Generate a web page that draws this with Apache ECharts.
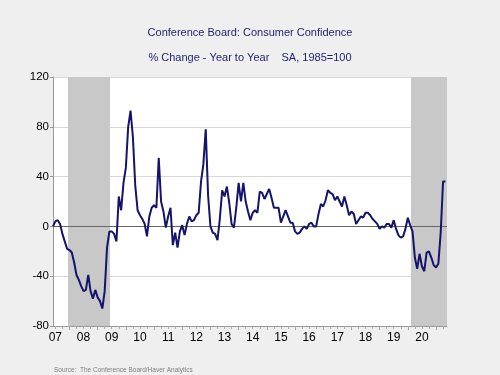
<!DOCTYPE html>
<html>
<head>
<meta charset="utf-8">
<style>
  html, body { margin: 0; padding: 0; background: #efefef; }
  #chart { width: 500px; height: 375px; }
</style>
<script src="https://cdn.jsdelivr.net/npm/echarts@6/dist/echarts.min.js"></script>
</head>
<body>
<div id="chart"></div>
<script>
// monthly % change y/y, Jun 2007 .. May 2021
const startYear = 2007;
const startMonth = 6;
const values = [
  0, 4, 5, 2, -6, -12, -18, -19, -21, -29, -39, -43,
  -48, -52, -51, -39, -52, -58, -51, -57, -60, -66, -52, -17,
  -4, -4, -6, -12, 24, 13, 35, 47, 80, 93, 72, 33,
  13, 9, 6, 2, -8, 8, 15, 17, 15, 55, 20, 12,
  -1, 8, 15, -15, -5, -17, -4, 1, -7, 2, 8, 4,
  5, 9, 11, 36, 50, 78, 25, 0, -5, -6, -11, 6,
  29, 24, 32, 19, 2, -1, 15, 35, 20, 35, 20, 12,
  5, 11, 13, 11, 28, 27, 22, 26, 30, 23, 15, 15,
  15, 3, 8, 13, 8, 3, 3, -4, -6, -5, -2, 0,
  -2, 2, 3, 0, 0, 10, 18, 16, 21, 29, 27, 26,
  21, 24, 20, 16, 24, 17, 9, 12, 10, 2, 5, 8,
  7, 11, 11, 9, 6, 4, 2, -2, 0, -1, 2, 2,
  -1, 5, -2, -7, -9, -8, -2, 7, 1, -4, -25, -34,
  -22, -32, -36, -21, -20, -25, -31, -33, -30, -5, 36, 36
];
const yearLabels = ['07', '08', '09', '10', '11', '12', '13', '14', '15', '16', '17', '18', '19', '20'];
const yTicks = [-80, -40, 0, 40, 80, 120];
// recession periods as decimal years
const recessions = [[2007.95, 2009.44], [2020.11, 2021.39]];

const xMin = startYear + (startMonth - 1) / 12;
const xMax = 2021.39;
const points = values.map((v, i) => [startYear + (startMonth - 1 + i) / 12, v]);

const yearTicks = [];
for (let y = 2008; y <= 2021; y++) yearTicks.push(y);
const quarterTicks = [];
for (let q = 2007.5; q < xMax; q += 0.25) quarterTicks.push(q);
const labelPos = yearLabels.map((l, i) => startYear + i + 0.5);

const chart = echarts.init(document.getElementById('chart'));
chart.setOption({
  backgroundColor: '#efefef',
  animation: false,
  title: [{
    text: 'Conference Board: Consumer Confidence',
    left: 'center',
    top: 22,
    textStyle: { color: '#1f1f70', fontSize: 11, fontWeight: 'normal', fontFamily: 'Liberation Sans' }
  }, {
    text: '% Change - Year to Year    SA, 1985=100',
    left: 'center',
    top: 47,
    textStyle: { color: '#1f1f70', fontSize: 11, fontWeight: 'normal', fontFamily: 'Liberation Sans' }
  }, {
    text: 'Source:  The Conference Board/Haver Analytics',
    left: 49,
    top: 362,
    textStyle: { color: '#808080', fontSize: 6.5, fontWeight: 'normal', fontFamily: 'Liberation Sans' }
  }],
  grid: {
    left: 53, right: 53, top: 77, bottom: 49,
    show: true, backgroundColor: '#fff', borderWidth: 0
  },
  xAxis: [{
    type: 'value',
    min: xMin,
    max: xMax,
    axisLine: { show: true, onZero: false, lineStyle: { color: '#999', width: 1 } },
    axisTick: { show: true, customValues: yearTicks, length: 4, lineStyle: { color: '#999' } },
    axisLabel: {
      customValues: labelPos,
      color: '#000',
      fontSize: 12,
      fontFamily: 'Liberation Sans',
      margin: 6,
      formatter: v => yearLabels[Math.round(v - 0.5 - startYear)]
    },
    splitLine: { show: false }
  }, {
    type: 'value',
    position: 'bottom',
    min: xMin,
    max: xMax,
    axisLine: { show: false, onZero: false },
    axisTick: { show: true, customValues: quarterTicks, length: 3, lineStyle: { color: '#aaa' } },
    axisLabel: { show: false },
    splitLine: { show: false }
  }],
  yAxis: {
    type: 'value',
    min: -80,
    max: 120,
    interval: 40,
    axisLine: { show: true, onZero: false, lineStyle: { color: '#999' } },
    axisTick: { show: true, length: 3, lineStyle: { color: '#999' } },
    axisLabel: {
      color: '#000', fontSize: 11.5, fontFamily: 'Liberation Sans', margin: 4,
      formatter: v => yTicks.includes(v) ? String(v) : ''
    },
    splitLine: { show: true, lineStyle: { color: '#d8d8d8', width: 1 } }
  },
  series: [{
    type: 'line',
    data: points,
    showSymbol: false,
    lineStyle: { color: '#14146b', width: 2 },
    z: 5,
    markArea: {
      silent: true,
      itemStyle: { color: '#c8c8c8' },
      data: recessions.map(r => [{ xAxis: r[0], yAxis: -80 }, { xAxis: r[1], yAxis: 120 }])
    },
    markLine: {
      silent: true,
      symbol: 'none',
      label: { show: false },
      lineStyle: { color: '#666', width: 1, type: 'solid' },
      data: [{ yAxis: 0 }]
    }
  }]
});
</script>
</body>
</html>
